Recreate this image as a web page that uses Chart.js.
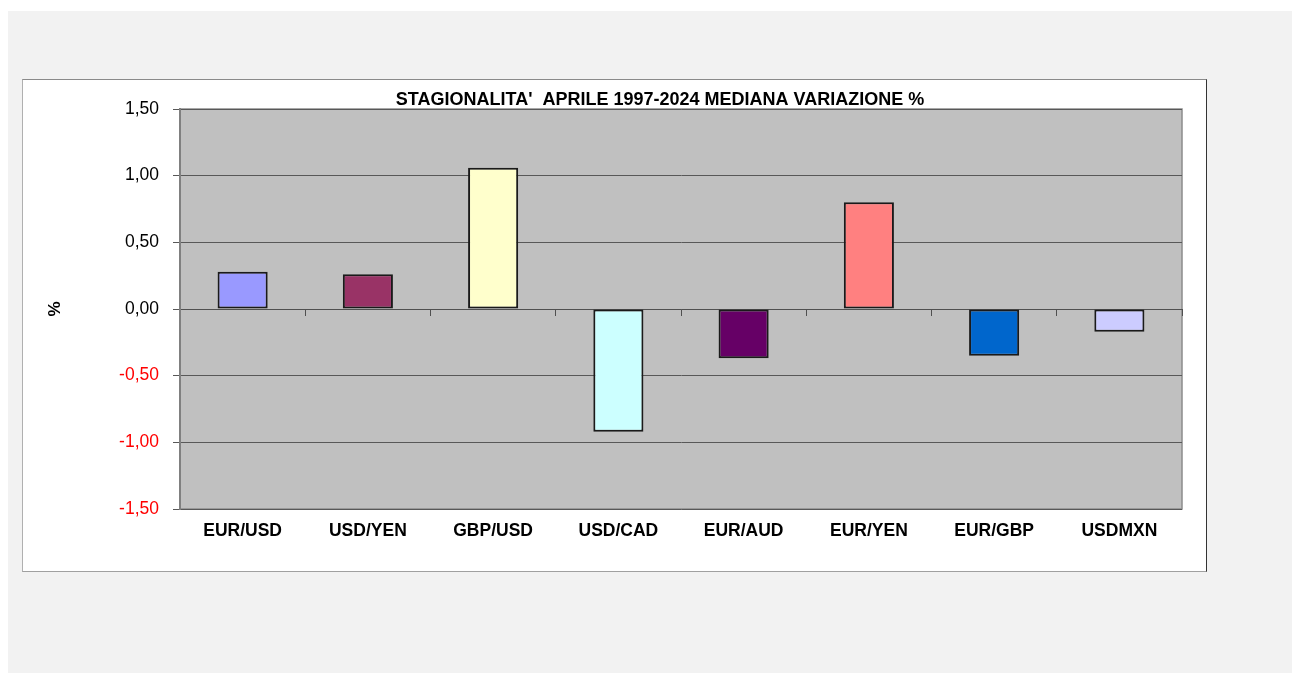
<!DOCTYPE html>
<html>
<head>
<meta charset="utf-8">
<script src="https://cdn.jsdelivr.net/npm/chart.js@4.4.1/dist/chart.umd.min.js"></script>
<style>
  html, body { margin: 0; padding: 0; background: #fff; }
  body { width: 1292px; height: 673px; position: relative; overflow: hidden; }
  #bg { position: absolute; left: 8px; top: 11px; right: 0; bottom: 0; background: #f2f2f2; }
  #box {
    position: absolute; left: 22px; top: 79px; width: 1183px; height: 491px;
    background: #fff;
    border-top: 1px solid #8a8a8a; border-left: 1px solid #b0b0b0;
    border-right: 1px solid #333; border-bottom: 1px solid #a0a0a0;
  }
  #chart { display: block; }
</style>
</head>
<body>
<div id="bg"></div>
<div id="box"><canvas id="chart" width="1183" height="491"></canvas></div>
<script>
const categories = ['EUR/USD', 'USD/YEN', 'GBP/USD', 'USD/CAD', 'EUR/AUD', 'EUR/YEN', 'EUR/GBP', 'USDMXN'];
const values = [0.28, 0.26, 1.06, -0.92, -0.37, 0.80, -0.35, -0.17];
const barColors = ['#9999ff', '#993366', '#ffffcc', '#ccffff', '#660066', '#ff8080', '#0066cc', '#ccccff'];
const chartTitle = "STAGIONALITA'  APRILE 1997-2024 MEDIANA VARIAZIONE %";

const FONT = "'Liberation Sans', Arial, sans-serif";

// gray plot area + title
const plotArea = {
    id: 'plotArea',
    beforeDraw(chart) {
        const { ctx, chartArea: a } = chart;
        ctx.save();
        ctx.fillStyle = '#c0c0c0';
        ctx.fillRect(a.left, a.top, a.right - a.left, a.bottom - a.top);
        ctx.strokeStyle = '#8c8c8c';
        ctx.lineWidth = 1.5;
        ctx.strokeRect(a.left, a.top, a.right - a.left, a.bottom - a.top);
        ctx.restore();
    },
    afterDraw(chart) {
        const { ctx, chartArea: a } = chart;
        ctx.save();
        ctx.font = 'bold 18px ' + FONT;
        ctx.fillStyle = '#000';
        ctx.textAlign = 'center';
        ctx.textBaseline = 'middle';
        ctx.fillText(chartTitle, (a.left + a.right) / 2 - 21, a.top - 9);
        ctx.restore();
    }
};

new Chart(document.getElementById('chart'), {
    type: 'bar',
    data: {
        labels: categories,
        datasets: [{
            data: values,
            backgroundColor: barColors,
            borderColor: '#1a1a1a',
            borderWidth: 2,
            borderSkipped: false,
            barPercentage: 0.4,
            categoryPercentage: 1
        }]
    },
    options: {
        responsive: false,
        animation: false,
        layout: { padding: { top: 29, right: 24, left: 0, bottom: 0 } },
        plugins: { legend: { display: false }, tooltip: { enabled: false } },
        scales: {
            x: {
                grid: { display: false, drawTicks: false },
                border: { display: false },
                ticks: { color: '#000', font: { family: FONT, size: 17.5, weight: 'bold' }, padding: 12 },
                afterFit(s) { s.height = 62; }
            },
            x2: {
                type: 'category',
                labels: categories,
                position: { y: 0 },
                offset: true,
                grid: { offset: true, drawOnChartArea: false, tickLength: 6, color: '#505050', lineWidth: 1 },
                border: { display: true, color: '#505050', width: 1 },
                ticks: { display: false }
            },
            y: {
                min: -1.5,
                max: 1.5,
                ticks: {
                    stepSize: 0.5,
                    padding: 14,
                    font: { family: FONT, size: 17.5 },
                    color: (c) => c.tick.value < 0 ? '#ff0000' : '#000',
                    callback: (v) => v.toFixed(2).replace('.', ',')
                },
                grid: { color: '#585858', lineWidth: 1, tickLength: 7 },
                border: { color: '#808080', width: 2 },
                title: {
                    display: true,
                    text: '%',
                    color: '#000',
                    font: { family: FONT, size: 17, weight: 'bold' },
                    padding: { top: 22, bottom: 0 }
                },
                afterFit(s) { s.width = 157; }
            }
        }
    },
    plugins: [plotArea]
});
</script>
</body>
</html>
